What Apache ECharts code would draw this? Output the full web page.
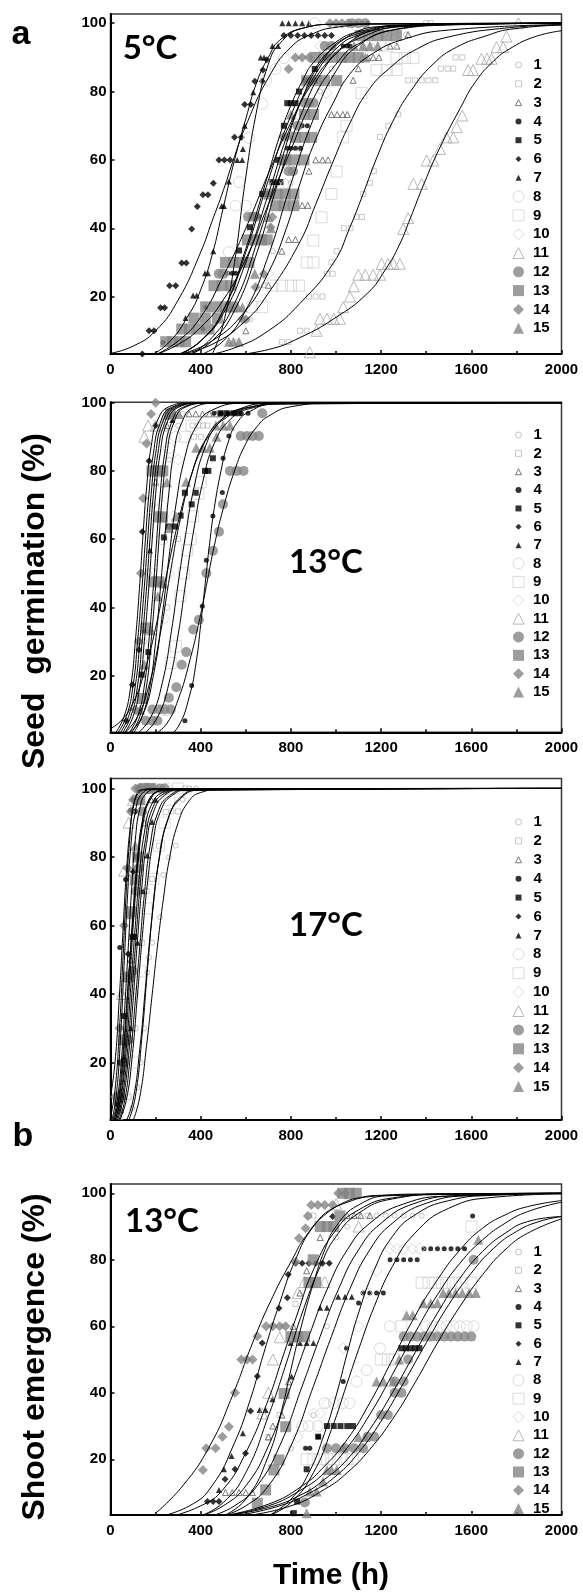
<!DOCTYPE html>
<html>
<head>
<meta charset="utf-8">
<script src="https://cdn.jsdelivr.net/npm/echarts@6/dist/echarts.min.js"></script>
<style>
html, body { margin: 0; padding: 0; background: #fff; }
#chart { width: 583px; height: 1592px; }
</style>
</head>
<body>
<div id="chart"></div>
<script>
// population labels 1..15
const popNames = ['1', '2', '3', '4', '5', '6', '7', '8', '9', '10', '11', '12', '13', '14', '15']
const yTicks = [20, 40, 60, 80, 100]
const panelTemps = ['5°C', '13°C', '17°C', '13°C']

// seed germination at 5°C: observed [h, %] per population (index 0 = population 1)
const obs5C = [
  [[560,6.7],[620,13.3],[680,23.3],[720,33.3],[760,46.7],[800,53.3],[840,63.3],[880,73.3],[930,80],[980,86.7],[1050,90],[1120,93.3],[1160,93.3],[1280,96.7],[1310,96.7]],
  [[760,6.7],[790,6.7],[840,10],[870,10],[880,20],[910,20],[940,20],[960,26.7],[985,26.7],[980,30],[1003,33.3],[1035,40],[1065,40],[1090,43.3],[1115,43.3],[1121,50],[1150,53.3],[1168,56.7],[1195,66.7],[1232,70],[1276,73.3],[1320,83.3],[1350,83.3],[1380,83.3],[1410,83.3],[1440,83.3],[1465,86.7],[1495,86.7],[1520,86.7],[1530,90],[1560,90],[1400,100],[1420,100]],
  [[600,10],[700,23.3],[760,33.3],[790,36.7],[820,36.7],[850,46.7],[875,46.7],[880,56.7],[910,60],[940,60],[965,60],[980,73.3],[1005,73.3],[1030,73.3],[1050,73.3],[1076,83.3],[1099,86.7],[1115,90],[1140,90],[1165,90],[1190,90],[1240,93.3],[1270,93.3],[1320,96.7]],
  [[233,6.6],[410,10.5],[422,16.9],[520,26.8],[540,26.8],[555,26.8],[636,43.4],[658,43.4],[784,63.4],[800,63.4],[820,63.4],[843,63.4],[850,70],[873,70],[877,76.6],[1032,93.3],[1050,93.3],[1062,93.3],[1065,100],[1090,100],[1115,100],[1140,100]],
  [[570,33.5],[618,40.3],[673,50],[695,50],[718,53.5],[736,53.5],[754,53.5],[743,60],[769,70],[784,76.6],[800,76.6],[821,76.6],[836,80],[865,83.2],[885,83.2],[907,83.2],[906,86.6],[955,90],[966,90]],
  [[141,3.2],[171,10],[193,10],[222,16.7],[240,16.7],[262,23.2],[289,23.2],[316,29.8],[336,29.8],[360,39.8],[385,46.4],[410,49.8],[432,49.8],[456,53.2],[481,60],[505,60],[530,60],[550,66.6],[580,66.6],[595,76.2],[622,76.2],[640,83],[673,83],[676,86.3],[693,89.3],[769,96.4],[800,96.4],[830,96.4],[860,96.4],[890,96.4],[920,96.4],[950,96.4],[980,96.4]],
  [[333,13.7],[366,20.3],[382,20.3],[419,26.8],[432,26.8],[456,33.3],[493,46.5],[503,46.5],[525,53.7],[562,60],[584,60],[587,63.2],[595,70],[633,79.8],[666,90],[681,90],[718,93.3],[743,93.3],[762,100],[790,100],[820,100],[850,100],[880,100]],
  [[480,20],[500,26.7],[525,33],[555,46.6],[600,46.6],[570,53.5],[614,66.4],[673,76.4],[690,83.3],[732,86.6],[769,89.8],[906,100],[1136,93.3],[1170,93.3],[1205,93.3],[1239,93.3]],
  [[629,16.9],[673,16.9],[718,23.2],[760,23.2],[800,23.2],[836,23.2],[870,30],[900,30],[899,36.4],[936,43.2],[980,50],[1003,56.6],[1032,66.6],[1047,70],[1113,79.6],[1180,86.3],[1225,86.3],[1268,86.3],[1268,89.8],[1305,89.8],[1343,89.8]],
  [[700,26.7],[733,53],[777,53],[806,46.6],[790,60],[810,66.7],[830,73.3],[870,80],[958,79.6],[900,90],[930,93.3]],
  [[884,3.7],[914,10],[929,13.5],[960,13.5],[990,13.5],[1017,13.5],[1032,16.9],[1062,20],[1079,23],[1099,26.4],[1130,26.4],[1165,26.4],[1195,26.4],[1202,29.6],[1230,29.6],[1255,29.6],[1283,29.6],[1298,39.8],[1320,43],[1343,53],[1380,53],[1402,59.8],[1431,59.8],[1461,63.2],[1490,66.6],[1520,66.6],[1535,69.6],[1560,73],[1586,86.3],[1608,86.3],[1645,89.6],[1670,89.6],[1690,89.6],[1712,93],[1741,93],[1756,96.1],[1809,100]],
  [[480,26.7],[500,26.7],[610,43.4],[630,43.4],[645,43.4],[790,56.7],[810,56.7],[830,70],[860,76.7],[880,76.7],[900,76.7],[950,93.3],[980,93.3],[1070,100],[1100,100],[1130,100]],
  [[245,6.8],[275,6.8],[305,6.8],[333,6.8],[316,10.5],[350,10.5],[390,10.5],[437,10.5],[370,13.7],[420,13.7],[474,13.7],[422,17],[470,17],[510,17],[540,17],[459,23.2],[495,23.2],[533,23.2],[510,30],[545,30],[580,30],[614,30],[607,36.6],[640,36.6],[670,36.6],[695,36.6],[733,46.6],[770,46.6],[813,46.6],[703,50],[740,50],[775,50],[813,50],[777,60],[815,60],[858,60],[821,66.6],[860,66.6],[892,66.6],[860,73.3],[900,73.3],[870,83.2],[910,83.2],[950,83.2],[1003,83.2],[906,90],[945,90],[985,90],[1025,90],[1060,90],[1099,90],[1106,96.4],[1145,96.4],[1185,96.4],[1225,96.4],[1268,96.4]],
  [[586,13.3],[600,13.3],[643,22.7],[680,26.6],[710,40.3],[718,43.3],[777,60],[766,66.7],[783,66.7],[790,86.6],[820,90],[850,90],[880,90],[973,100],[1000,100],[1027,100],[1053,100]],
  [[525,6.8],[545,6.8],[570,6.8],[540,16.9],[565,16.9],[585,16.9],[640,26.7],[700,43.3],[711,40],[760,60],[800,73.3],[1080,93.3],[1120,93.3],[1150,93.3],[1185,93.3],[1130,90]]
]

// fitted curves at 5°C as [h, %]
const fit5C = [
  [[400,3],[500,7],[600,16],[700,32],[800,53],[900,72],[1000,86],[1100,93.5],[1250,98],[1500,99.6],[2000,100]],
  [[400,2.5],[550,5],[700,10],[840,18],[990,30],[1060,40],[1120,50],[1180,60.5],[1250,71],[1330,80],[1430,88],[1535,93],[1670,96.4],[1770,98.2],[2000,99.5]],
  [[300,3],[450,7],[600,16],[700,27],[780,40],[840,53],[910,66],[990,77],[1060,85],[1160,91],[1310,95.5],[1500,98],[2000,99.6]],
  [[200,3],[300,6],[400,11],[500,19],[600,31],[700,47],[800,63],[900,78],[1000,88],[1100,94],[1300,98.5],[1600,99.8],[2000,100]],
  [[300,3],[400,7],[500,16],[600,34],[650,45],[700,56],[750,67],[800,76],[850,83],[900,88.5],[1000,94.5],[1100,97.5],[1300,99.5],[2000,100]],
  [[0,3.4],[100,5.5],[200,10],[300,19],[400,33],[450,42],[500,51],[550,61],[600,70],[700,84],[800,93],[900,97],[1000,98.8],[1200,99.8],[2000,100]],
  [[150,2],[250,6],[350,15],[400,22],[450,32],[500,46],[550,60],[600,72],[650,83],[700,90],[750,95],[850,98.5],[1000,99.7],[2000,100]],
  [[450,3],[500,12],[550,30],[600,55],[650,75],[700,88],[750,94],[850,98.5],[1000,99.7],[2000,100]],
  [[300,3],[450,6],[600,13],[700,21],[840,36],[910,47],[990,60],[1060,70.5],[1140,80],[1240,87],[1360,92.5],[1500,96],[1770,98.7],[2000,99.5]],
  [[350,3],[450,7],[550,16],[650,33],[750,55],[850,74],[950,87],[1050,94],[1200,98.3],[1500,99.8],[2000,100]],
  [[500,2.5],[700,4.5],[840,8],[990,13.5],[1140,21],[1220,28],[1280,35],[1330,43],[1390,53],[1460,63.5],[1550,75],[1620,83],[1700,89],[1770,92.5],[1880,96],[2000,97.8]],
  [[300,3],[400,7],[500,16],[600,33],[700,54],[800,73],[900,86],[1000,93.5],[1100,97],[1300,99.4],[2000,100]],
  [[200,3],[300,7],[400,14],[500,26],[600,40],[700,56],[800,71],[900,83],[1000,91],[1100,95.5],[1300,99],[2000,100]],
  [[350,3],[450,8],[550,18],[650,36],[750,58],[850,78],[950,90],[1050,96],[1200,99],[2000,100]],
  [[300,3],[400,7],[500,15],[600,30],[700,50],[800,70],[900,84],[1000,92.5],[1100,96.5],[1300,99.3],[2000,100]]
]

// seed germination at 13°C
const obs13C = [
  [[150,30],[170,50],[190,70],[230,80],[260,83.3],[300,93.3],[320,96.7]],
  [[250,40],[300,60],[330,73.3],[364,93.3],[390,93.3],[410,93.3],[430,93.3],[370,90],[400,90]],
  [[200,76.7],[250,93.3],[348,96.7],[378,96.7],[408,96.7],[438,96.7],[468,96.7],[495,96.7]],
  [[170,3.3],[200,3.3],[230,3.3],[260,3.3],[290,3.3],[320,3.3],[330,6.8],[360,17.1],[407,40.3],[425,53.8],[454,66.8],[496,73.7],[499,83.7],[525,90.2],[459,96.9],[490,96.9],[520,96.9],[550,96.9],[580,96.9],[610,96.9]],
  [[138,20.3],[168,26.9],[222,46.8],[237,60.5],[259,63.7],[286,63.7],[311,66.9],[330,73.6],[378,73.6],[360,70.2],[419,80],[434,80],[454,83.7],[488,96.9],[515,96.9],[545,96.9],[570,96.9]],
  [[70,6.8],[97,17.3],[126,27.6],[141,62.2],[171,82.9],[200,93.3]],
  [[150,33.3],[175,56.7],[210,80],[274,94.9],[282,96.3]],
  [[180,50],[200,66.7],[230,76.7],[260,86.7],[290,90],[230,60]],
  [[250,10],[267,23.7],[290,28.6],[310,43.3],[325,50],[340,56.7],[355,60],[365,66.7],[390,73.3],[400,76.7],[330,90],[360,93.3]],
  [[240,36.7],[260,50],[280,66.7],[300,83.3],[230,70]],
  [[150,90],[167,93.3],[200,93.3],[232,93.3],[250,96.7]],
  [[156,6.8],[186,6.8],[208,6.8],[186,10.1],[215,10.1],[240,10.1],[267,10.1],[259,13.5],[292,16.6],[316,23.2],[336,26.9],[367,33.5],[392,36.4],[425,50],[454,56.6],[481,62.2],[499,70.2],[530,80],[560,80],[590,80],[577,90.2],[605,90.2],[630,90.2],[658,90.2],[673,96.9]],
  [[140,13.3],[158,34],[192,47.5],[215,47.5],[215,66.5],[230,66.5],[184,80],[210,80],[232,80],[265,96.7]],
  [[110,10],[125,30],[135,50],[145,72],[160,88],[180,96.7],[200,100]],
  [[130,10],[150,23.3],[180,33.3],[210,43.3],[235,47],[250,76.7],[260,63.3],[290,66.6],[335,76.8],[380,86.8],[410,86.8],[440,86.8],[470,90],[467,93.3],[500,93.3],[530,93.3],[254,96.7],[280,96.7],[303,96.7]]
]

const fit13C = [
  [[80,3],[120,8],[150,17],[170,30],[190,46],[205,60],[220,73],[240,85],[270,94],[320,98.6],[420,99.8],[2000,100]],
  [[120,3],[180,8],[230,18],[270,33],[300,47],[330,60],[370,75],[420,87],[480,94],[560,97.8],[700,99.7],[2000,100]],
  [[80,3],[140,8],[190,20],[230,38],[260,55],[290,70],[330,84],[380,93],[450,97.8],[600,99.8],[2000,100]],
  [[250,2],[300,5],[350,14],[380,24],[400,35],[420,47],[440,59],[460,69],[490,80],[520,88],[560,94],[620,97.5],[720,99.5],[2000,100]],
  [[0,4.5],[50,7],[100,12],[150,21],[200,34],[250,50],[300,65],[350,77],[400,86],[450,91.5],[500,95],[600,98.3],[800,99.8],[2000,100]],
  [[20,3],[60,8],[90,17],[110,30],[130,47],[145,62],[160,75],[180,87],[210,95],[260,98.8],[350,99.9],[2000,100]],
  [[60,3],[100,8],[130,17],[150,30],[170,46],[185,60],[200,73],[220,85],[250,94],[300,98.6],[400,99.8],[2000,100]],
  [[90,3],[130,8],[160,17],[180,30],[200,46],[215,60],[230,73],[250,85],[280,94],[330,98.6],[430,99.8],[2000,100]],
  [[150,3],[210,8],[260,18],[300,32],[335,48],[370,63],[410,77],[460,88],[530,95],[620,98.3],[800,99.8],[2000,100]],
  [[100,3],[140,8],[175,17],[200,30],[222,46],[240,60],[258,73],[280,85],[315,94],[370,98.6],[470,99.8],[2000,100]],
  [[40,3],[80,8],[110,17],[130,30],[150,46],[165,60],[180,73],[200,85],[230,94],[280,98.6],[380,99.8],[2000,100]],
  [[200,3],[250,6],[300,13],[350,24],[400,38],[430,48],[460,58],[500,69],[550,80],[600,88],[650,93],[700,96],[800,98.8],[1000,99.9],[2000,100]],
  [[50,3],[90,8],[120,17],[140,30],[160,46],[175,60],[190,73],[210,85],[240,94],[290,98.6],[390,99.8],[2000,100]],
  [[30,3],[70,8],[100,17],[120,30],[140,46],[155,60],[170,73],[190,85],[220,94],[270,98.6],[370,99.8],[2000,100]],
  [[60,3],[120,8],[170,17],[220,32],[265,50],[310,66],[360,79],[420,89],[500,95.5],[600,98.5],[800,99.8],[2000,100]]
]

// seed germination at 17°C
const obs17C = [
  [[97,6.7],[119,12.7],[134,20],[150,30],[163,46.3],[171,50.7],[185,55],[220,62.4],[234,74.8],[259,79.9],[289,83.3],[320,96.7],[350,100],[380,100]],
  [[80,10],[110,30],[140,55],[160,70],[185,73.6],[215,83.3],[245,93.1],[270,93.3],[300,93.3],[330,100]],
  [[60,20],[90,50],[110,76.7],[150,90],[180,96.7]],
  [[41,53.6],[67,73.4],[89,93.6],[100,96.7],[120,100],[135,100]],
  [[30,8],[45,20],[60,33.6],[80,45],[97,56.7],[105,56.7],[115,80],[125,96.7],[140,100]],
  [[50,20],[79,51.7],[101,75.7],[110,93.3],[125,100]],
  [[60,10],[90,30],[120,55],[145,70],[163,80.4],[185,90.2],[200,96.7]],
  [[70,10],[100,40],[130,70],[170,90],[200,100],[250,100]],
  [[100,20],[130,46.6],[160,65],[190,73.6],[215,83.3],[240,90],[260,96.7],[300,100]],
  [[50,10],[80,40],[110,70],[140,90],[170,100]],
  [[30,5],[50,40],[60,76],[80,90],[100,96.7]],
  [[45,10],[60,20],[80,26.6],[100,46.7],[115,70],[125,76.7],[140,93.3],[130,100],[160,100],[190,100],[220,100],[240,100]],
  [[40,10],[60,26.6],[80,45],[90,64],[110,73.3],[120,80],[130,96.7],[150,100],[175,100]],
  [[20,10],[40,30],[60,60],[75,76.7],[90,93.3],[100,96.7],[110,100]],
  [[40,6.7],[55,26.6],[70,45],[85,63.3],[110,83.3],[130,96.7],[150,100]]
]

const fit17C = [
  [[100,3],[130,10],[160,25],[185,40],[210,55],[235,68],[260,79],[300,90],[350,96.5],[400,98.8],[500,99.8],[2000,100]],
  [[70,3],[100,9],[130,24],[155,42],[180,60],[210,77],[250,90],[310,97],[400,99.5],[2000,100]],
  [[20,3],[45,10],[65,24],[85,44],[105,64],[125,80],[145,90],[175,96.5],[230,99.3],[2000,100]],
  [[0,10],[20,20],[40,40],[55,58],[70,75],[90,90],[110,97],[140,99.6],[2000,100]],
  [[15,3],[35,9],[55,22],[75,40],[95,58],[115,75],[135,87],[160,95],[200,98.8],[260,99.9],[2000,100]],
  [[10,3],[30,9],[50,22],[65,38],[80,55],[95,72],[110,85],[130,94],[160,98.6],[220,99.9],[2000,100]],
  [[40,3],[70,9],[95,21],[120,40],[140,56],[165,73],[190,85],[220,93],[270,97.8],[360,99.7],[2000,100]],
  [[35,3],[60,8],[85,20],[110,38],[130,54],[150,69],[175,83],[210,93],[260,97.8],[350,99.7],[2000,100]],
  [[80,3],[110,10],[140,28],[165,48],[190,66],[220,81],[260,92],[320,98],[400,99.7],[2000,100]],
  [[30,3],[55,9],[80,22],[100,38],[120,56],[140,72],[160,84],[190,93],[240,98],[320,99.7],[2000,100]],
  [[5,3],[25,10],[45,28],[60,48],[75,68],[90,83],[110,93],[140,98.5],[200,99.9],[2000,100]],
  [[25,3],[50,9],[75,23],[95,40],[115,58],[135,74],[155,85],[185,94],[240,98.6],[320,99.8],[2000,100]],
  [[15,3],[40,10],[60,24],[80,44],[100,64],[120,80],[140,90],[170,96.5],[220,99.3],[300,99.9],[2000,100]],
  [[0,4],[20,12],[40,30],[55,50],[70,70],[85,85],[100,94],[130,99],[180,99.9],[2000,100]],
  [[20,3],[45,9],[70,24],[90,42],[110,60],[130,76],[150,87],[180,95],[230,98.8],[300,99.8],[2000,100]]
]

// shoot emergence at 13°C
const obsShoot = [
  [[800,23.3],[900,33.3],[960,60],[1000,86.7],[1050,90],[1100,93.3],[1140,93.3],[1180,93.3],[1220,93.3],[1260,93.3],[1300,93.3],[1340,93.3],[1380,93.3]],
  [[770,60],[820,66.7],[880,93.3],[900,93.3],[700,26.7],[750,33.3]],
  [[510,10],[540,10],[570,10],[600,10],[629,10],[700,26.7],[720,30],[760,33.3],[790,43.3],[810,60],[840,70],[870,76.7],[930,86.7],[1050,93.3],[1080,93.3],[1110,93.3],[1150,93.3]],
  [[865,23.3],[884,23.3],[921,26.8],[1032,43.4],[1047,53.4],[1100,67],[1120,70],[1150,70],[1180,70],[1210,70],[1240,80],[1270,80],[1300,80],[1330,80],[1360,80],[1390,83.3],[1420,83.3],[1450,83.3],[1480,83.3],[1510,83.3],[1540,83.3],[1570,83.3],[1606,93.2]],
  [[813,3.8],[828,7.3],[870,17],[921,26.8],[960,30],[990,30],[1020,30],[1050,30],[1075,30],[1290,53.4],[1310,53.4],[1330,53.4],[1350,53.4],[1370,53.4]],
  [[430,7.3],[455,7.3],[481,7.3],[508,14],[552,17],[599,21.8],[621,34.5],[651,45],[673,55],[747,65.4],[784,68.6],[788,75.6],[821,79],[850,79],[880,79],[910,79],[940,79],[970,79],[985,93]],
  [[481,10.8],[503,17],[537,21],[587,27.8],[661,34.8],[688,34.8],[718,38.1],[803,44.9],[799,55],[840,55],[870,55],[900,55],[930,65.6],[960,65.6],[1010,68.9],[1040,68.9],[1070,68.9]],
  [[850,30],[880,30],[920,30],[950,36.9],[990,36.9],[1030,36.9],[1060,36.9],[1091,43.4],[1136,46.8],[1195,53.4],[1239,60],[1400,60],[1430,60],[1460,60],[1490,60],[1520,60],[1550,60],[1580,60],[1610,60]],
  [[870,20],[900,20],[930,20],[960,20],[990,20],[1020,20],[1050,20],[1076,20],[1200,50],[1230,50],[1260,50],[1290,60],[1380,73.1],[1410,73.1],[1440,73.1],[1470,73.1],[1500,73.1],[1530,73.1],[1560,73.1],[1600,73.1],[1601,90]],
  [[830,26.7],[900,33.8],[930,33.8],[960,36.7],[1032,53.4],[1100,60],[1136,70],[1180,76.7],[1240,83.3],[1270,83.3],[1300,83.3],[1340,83.3],[1370,83.3]],
  [[673,33.8],[700,40],[720,50],[750,56.7],[800,56.7],[830,70],[860,73.3],[890,73.3],[920,73.3],[950,73.3],[1000,96.7],[1060,100],[1100,90]],
  [[862,7],[960,23.3],[1000,23.3],[1040,23.3],[1080,23.3],[1120,23.3],[1140,26.8],[1170,26.8],[1200,33.3],[1230,33.3],[1260,40],[1290,40],[1260,43.4],[1300,43.4],[1320,50],[1300,56.9],[1330,56.9],[1360,56.9],[1390,56.9],[1420,56.9],[1450,56.9],[1480,56.9],[1510,56.9],[1540,56.9],[1570,56.9],[1600,56.9],[1610,80]],
  [[651,6.8],[688,10.8],[725,16.8],[747,19.8],[777,29.8],[770,39.8],[800,56.9],[830,56.9],[860,56.9],[880,73.2],[910,73.2],[899,80],[930,90],[960,90],[990,90],[1017,93.2],[1030,100],[1060,100],[1090,100]],
  [[410,16.8],[425,23.3],[466,23.3],[496,26.8],[525,29.8],[552,40],[580,50],[605,50],[630,50],[651,57],[690,60],[720,60],[750,60],[777,60],[821,79.4],[836,86.5],[865,89.5],[875,93.2],[890,96.5],[920,96.5],[950,96.5],[985,96.5],[1010,100],[1040,100]],
  [[870,3.8],[884,10.3],[914,10.3],[943,13.3],[960,16.8],[980,16.8],[1003,16.8],[1032,23.5],[1100,26.7],[1130,26.7],[1180,43.4],[1210,43.4],[1254,43.4],[1280,50],[1313,63.3],[1340,63.3],[1387,66.9],[1420,66.9],[1450,66.9],[1475,70],[1500,70],[1530,70],[1560,70],[1590,70],[1620,70],[1631,86]]
]

const fitShoot = [
  [[450,3],[550,6],[650,12],[750,24],[850,42],[930,57],[1010,71],[1100,83],[1200,91],[1350,97],[1550,99.3],[2000,100]],
  [[500,3],[600,6],[700,12],[800,24],[900,42],[980,57],[1060,71],[1150,83],[1250,91],[1400,97],[1600,99.3],[2000,100]],
  [[400,3],[500,6],[600,12],[700,24],[800,42],[880,57],[960,71],[1050,83],[1150,91],[1300,96.8],[1500,99.2],[2000,100]],
  [[700,3],[800,8],[880,16],[950,28],[1000,39],[1050,52],[1100,64],[1170,77],[1250,87],[1350,93.5],[1500,97.8],[1700,99.4],[2000,99.9]],
  [[500,3],[700,6.5],[850,12],[950,18],[1050,26],[1150,37],[1250,50],[1350,63],[1450,74],[1550,83],[1650,89.5],[1750,93.5],[1850,96],[2000,97.8]],
  [[200,2.5],[350,6],[450,12],[550,25],[620,38],[680,52],[750,67],[820,80],[900,90],[1000,96],[1150,99],[1400,99.8],[2000,100]],
  [[250,2.5],[400,6],[500,11],[600,22],[700,38],[760,50],[830,64],[900,77],[1000,89],[1100,95],[1250,98.6],[1500,99.8],[2000,100]],
  [[500,3],[700,5.5],[850,9.5],[950,14],[1050,20],[1150,29],[1250,40],[1350,52],[1450,64],[1550,74.5],[1650,82.5],[1750,88],[1850,91.5],[2000,93]],
  [[500,3],[700,6],[850,11],[950,16],[1050,23.5],[1150,33.5],[1250,45.5],[1350,58],[1450,69.5],[1550,79],[1650,86],[1750,91],[1850,94.5],[2000,97.3]],
  [[700,3],[800,7],[900,16],[980,29],[1050,43],[1100,53],[1170,66],[1250,78],[1350,88],[1500,95.5],[1700,98.8],[2000,99.8]],
  [[400,3],[500,7],[600,16],[700,33],[780,49],[850,64],[930,78],[1000,87],[1100,94],[1250,98.3],[1500,99.8],[2000,100]],
  [[600,3],[800,6],[950,11],[1050,16],[1150,23],[1250,32],[1350,43],[1450,55],[1550,66],[1650,75.5],[1750,83],[1850,88],[2000,92.3]],
  [[500,3],[600,8],[700,21],[760,35],[800,47],[850,61],[900,73],[950,83],[1000,90],[1100,96.5],[1250,99.3],[2000,100]],
  [[200,3.8],[320,12],[440,24],[540,39],[630,55],[720,69],[805,80],[865,87],[950,93.5],[1050,97.3],[1200,99.4],[2000,100]],
  [[550,3],[750,6],[900,10.5],[1000,15],[1100,22],[1200,31.5],[1300,43],[1400,55],[1500,66.5],[1600,76],[1700,83.5],[1800,88.5],[1900,91.5],[2000,93]]
]

const obsPanels = [obs5C, obs13C, obs17C, obsShoot]
const fitPanels = [fit5C, fit13C, fit17C, fitShoot]

// marker look per population
const popStyle = [
  { symbol: 'circle', size: 5, fill: null, stroke: '#b4b4b4' },
  { symbol: 'rect', size: 5, fill: null, stroke: '#bcbcbc' },
  { symbol: 'triangle', size: 6, fill: null, stroke: '#5a5a5a' },
  { symbol: 'circle', size: 5, fill: '#000' },
  { symbol: 'rect', size: 6, fill: '#000' },
  { symbol: 'diamond', size: 7, fill: '#000' },
  { symbol: 'triangle', size: 6, fill: '#000' },
  { symbol: 'circle', size: 11, fill: null, stroke: '#d2d2d2' },
  { symbol: 'rect', size: 11, fill: null, stroke: '#d2d2d2' },
  { symbol: 'diamond', size: 11, fill: null, stroke: '#d2d2d2' },
  { symbol: 'triangle', size: 11, fill: null, stroke: '#a8a8a8' },
  { symbol: 'circle', size: 10, fill: '#858585' },
  { symbol: 'rect', size: 11, fill: '#858585' },
  { symbol: 'diamond', size: 10, fill: '#858585' },
  { symbol: 'triangle', size: 10, fill: '#858585' }
]

// panel boxes (px) and y ranges
const panels = [
  { top: 14, height: 340, ymin: 3.2, ymax: 102.7, legendTop: 65, step: 18.8, temp: [150, 48] },
  { top: 402.3, height: 330, ymin: 3.4, ymax: 100.1, legendTop: 435, step: 18.36, temp: [326, 562] },
  { top: 778.5, height: 341.5, ymin: 3.25, ymax: 102.9, legendTop: 822, step: 18.9, temp: [326, 925] },
  { top: 1184, height: 331, ymin: 3.25, ymax: 102.8, legendTop: 1252, step: 18.33, temp: [162, 1221] }
]

const FONT = 'Liberation Sans, Arial, sans-serif'

function itemStyleOf(s) {
  if (s.fill) return { color: s.fill, borderWidth: 0 }
  return { color: 'rgba(255,255,255,0)', borderColor: s.stroke, borderWidth: 1 }
}

var grid = [], xAxis = [], yAxis = [], series = [], legend = [], graphic = []

panels.forEach(function (p, k) {
  grid.push({ left: 110.5, width: 451, top: p.top, height: p.height, show: true, borderColor: '#3a3a3a', borderWidth: 1.5, containLabel: false })
  xAxis.push({
    type: 'value', gridIndex: k, min: 0, max: 2000, interval: 400,
    axisLine: { show: true, onZero: false, lineStyle: { color: '#000', width: 2 } },
    axisTick: { show: true, inside: true, length: 4, lineStyle: { color: '#000', width: 1.5 } },
    minorTick: { show: true, splitNumber: 2, length: 3, lineStyle: { color: '#000', width: 1.5 } },
    axisLabel: {
      margin: 8, color: '#000', fontFamily: FONT, fontWeight: 'bold', fontSize: 15,
      formatter: function (v) { return String(v) }
    },
    splitLine: { show: false }
  })
  yAxis.push({
    type: 'value', gridIndex: k, min: p.ymin, max: p.ymax,
    axisLine: { show: true, onZero: false, lineStyle: { color: '#000', width: 2 } },
    axisTick: { show: true, inside: true, length: 4, customValues: yTicks, lineStyle: { color: '#000', width: 1.5 } },
    axisLabel: { margin: 4, color: '#000', fontFamily: FONT, fontWeight: 'bold', fontSize: 15, customValues: yTicks },
    splitLine: { show: false }
  })

  popNames.forEach(function (nm, i) {
    var s = popStyle[i]
    series.push({
      type: 'scatter', name: nm, xAxisIndex: k, yAxisIndex: k,
      data: obsPanels[k][i], symbol: s.symbol, symbolSize: s.size,
      itemStyle: itemStyleOf(s), z: 2, silent: true
    })
  })
  popNames.forEach(function (nm, i) {
    series.push({
      type: 'line', name: 'fit' + nm, xAxisIndex: k, yAxisIndex: k,
      data: fitPanels[k][i], showSymbol: false, symbol: 'none',
      smooth: 0.5, clip: true,
      lineStyle: { color: '#000', width: 1 }, z: 3, silent: true
    })
  })

  // two legend blocks per panel: small markers 1-7, large markers 8-15
  var textBase = { fontFamily: FONT, fontWeight: 'bold', fontSize: 15, color: '#000', lineHeight: 16 }
  legend.push({
    orient: 'vertical', left: 515, top: p.legendTop - 8, padding: 0,
    itemWidth: 6, itemHeight: 6, itemGap: p.step - 16, selectedMode: false,
    textStyle: Object.assign({}, textBase, { padding: [0, 0, 0, 7] }),
    data: popNames.slice(0, 7).map(function (nm, i) {
      return { name: nm, icon: popStyle[i].symbol, itemStyle: itemStyleOf(popStyle[i]) }
    })
  })
  legend.push({
    orient: 'vertical', left: 512.5, top: p.legendTop + 7 * p.step - 8, padding: 0,
    itemWidth: 11, itemHeight: 11, itemGap: p.step - 16, selectedMode: false,
    textStyle: Object.assign({}, textBase, { padding: [0, 0, 0, 4] }),
    data: popNames.slice(7).map(function (nm, i) {
      return { name: nm, icon: popStyle[i + 7].symbol, itemStyle: itemStyleOf(popStyle[i + 7]) }
    })
  })

  graphic.push({
    type: 'text', x: p.temp[0], y: p.temp[1], z: 10,
    style: { text: panelTemps[k], font: 'bold 33px Lato, "Open Sans", sans-serif', fill: '#000', textAlign: 'center', textVerticalAlign: 'middle' }
  })
})

graphic.push(
  { type: 'text', x: 21, y: 35, style: { text: 'a', font: 'bold 34px ' + FONT, fill: '#000', textAlign: 'center', textVerticalAlign: 'middle' } },
  { type: 'text', x: 23, y: 1137, style: { text: 'b', font: 'bold 34px ' + FONT, fill: '#000', textAlign: 'center', textVerticalAlign: 'middle' } },
  { type: 'text', x: 35, y: 601, rotation: Math.PI / 2, style: { text: 'Seed  germination (%)', font: 'bold 32px ' + FONT, fill: '#000', textAlign: 'center', textVerticalAlign: 'middle' } },
  { type: 'text', x: 35.5, y: 1357, rotation: Math.PI / 2, style: { text: 'Shoot emergence (%)', font: 'bold 32px ' + FONT, fill: '#000', textAlign: 'center', textVerticalAlign: 'middle' } },
  { type: 'text', x: 331, y: 1576, style: { text: 'Time (h)', font: 'bold 30px ' + FONT, fill: '#000', textAlign: 'center', textVerticalAlign: 'middle' } }
)

var myChart = echarts.init(document.getElementById('chart'), null, { renderer: 'canvas' })
myChart.setOption({
  animation: false,
  backgroundColor: '#fff',
  grid: grid,
  xAxis: xAxis,
  yAxis: yAxis,
  legend: legend,
  graphic: graphic,
  series: series
})
</script>
</body>
</html>
